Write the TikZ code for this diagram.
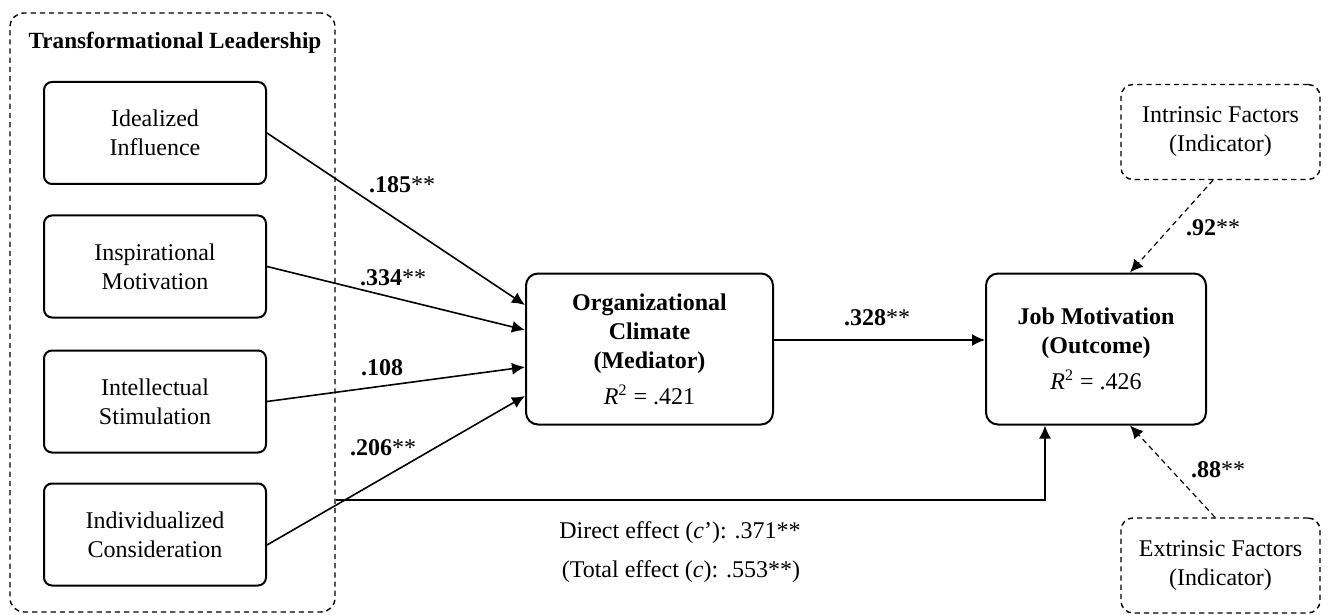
\documentclass[tikz,border=0pt]{standalone}
\usepackage{fontspec}
\setmainfont{Liberation Serif}
\usetikzlibrary{arrows.meta,calc}
\begin{document}
\begin{tikzpicture}[x=0.5pt,y=-0.5pt,
  font=\fontsize{12}{14.5}\selectfont,
  solidbox/.style={draw,line width=1pt,rounded corners=4pt,align=center,inner sep=0pt},
  leftbox/.style={solidbox,minimum width=111pt,minimum height=51pt},
  bigbox/.style={solidbox,rounded corners=6pt,minimum height=75.5pt},
  dashbox/.style={draw,line width=0.7pt,dash pattern=on 2.6pt off 2pt,rounded corners=6pt,align=center,inner sep=0pt,minimum width=99.5pt,minimum height=47.5pt},
  arr/.style={line width=0.8pt,-{Latex[length=6.5pt,width=6pt]}},
  darr/.style={line width=0.6pt,dash pattern=on 2.6pt off 2pt,-{Latex[length=6.5pt,width=6pt]}},
  lab/.style={inner sep=0pt}]
\useasboundingbox (0,0) rectangle (1329,615);
% outer dashed group
\node[draw,line width=0.7pt,dash pattern=on 2.6pt off 2pt,rounded corners=7pt,minimum width=162.5pt,minimum height=299.5pt,inner sep=0pt] (outer) at (172.5,312.5) {};
\node[lab,font=\fontsize{11.6}{14}\selectfont\bfseries] (title) at (175,43) {Transformational Leadership};
% left boxes
\node[leftbox] (b1) at (155,133) {Idealized\\Influence};
\node[leftbox] (b2) at (155,266.5) {Inspirational\\Motivation};
\node[leftbox] (b3) at (155,401.5) {Intellectual\\Stimulation};
\node[leftbox] (b4) at (155,534.5) {Individualized\\Consideration};
% mediator and outcome
\node[bigbox,minimum width=123.5pt] (org) at (649.5,349) {\textbf{Organizational}\\\textbf{Climate}\\\textbf{(Mediator)}\\[3.5pt]\textit{R}\textsuperscript{2} = .421};
\node[bigbox,minimum width=110pt] (job) at (1096,349) {\textbf{Job Motivation}\\\textbf{(Outcome)}\\[3.5pt]\textit{R}\textsuperscript{2} = .426};
% indicators
\node[dashbox] (intr) at (1220.5,132) {Intrinsic Factors\\(Indicator)};
\node[dashbox] (extr) at (1220.5,565.5) {Extrinsic Factors\\(Indicator)};
% connectors
\draw[arr] (b1.east) -- ($(org.west)+(0,-44)$);
\draw[arr] (b2.east) -- ($(org.west)+(0,-19)$);
\draw[arr] (b3.east) -- ($(org.west)+(0,18)$);
\draw[arr] ($(b4.east)+(0,10.5)$) -- ($(org.west)+(0,47)$);
\draw[arr] ($(org.east)+(0,-9)$) -- ($(job.west)+(0,-9)$);
\coordinate (de) at (outer.east |- 0,500);
\draw[arr] (de) -| ($(job.south)+(-51,0)$);
\draw[darr] ($(intr.south)+(-7.5,0)$) -- ($(job.north)+(34,0)$);
\draw[darr] ($(extr.north)+(-5.5,0)$) -- ($(job.south)+(34,0)$);
% labels
\node[lab] (l1) at (402,185) {\textbf{.185}**};
\node[lab] (l2) at (393,278) {\textbf{.334}**};
\node[lab] (l3) at (382,368) {\textbf{.108}};
\node[lab] (l4) at (383,448) {\textbf{.206}**};
\node[lab] (l5) at (877,318) {\textbf{.328}**};
\node[lab] (l6) at (1213,228) {\textbf{.92}**};
\node[lab] (l7) at (1218,470) {\textbf{.88}**};
\node[lab] (d1) at (680,533) {Direct effect (\textit{c}’): .371**};
\node[lab] (d2) at (681,572) {(Total effect (\textit{c}): .553**)};
\end{tikzpicture}
\end{document}
